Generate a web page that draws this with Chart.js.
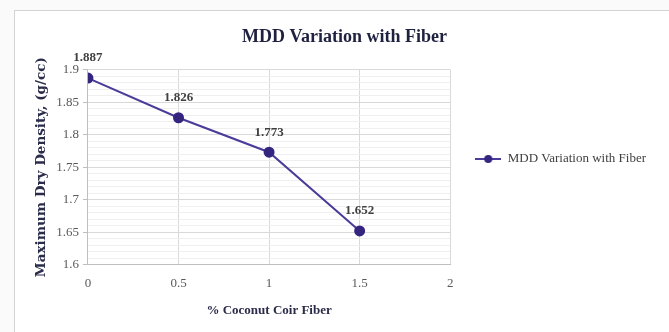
<!DOCTYPE html>
<html>
<head>
<meta charset="utf-8">
<title>MDD Variation with Fiber</title>
<script src="https://cdn.jsdelivr.net/npm/chart.js@4.4.1/dist/chart.umd.min.js"></script>
<style>
    body { margin: 0; background: #fafafa; }
    #frame {
        position: absolute; left: 14px; top: 10px; width: 700px; height: 400px;
        background: #fff; border: 1px solid #d4d4d4;
    }
    #wrap { position: absolute; left: 0; top: 0; width: 669px; height: 332px; }
</style>
</head>
<body>
<div id="frame"></div>
<div id="wrap"><canvas id="mddChart" width="669" height="332"></canvas></div>
<script>
// % coconut coir fiber vs maximum dry density (g/cc)
const fiberPct = [0, 0.5, 1, 1.5];
const mddValues = [1.887, 1.826, 1.773, 1.652];
const seriesName = "MDD Variation with Fiber";

const SERIF = '"Liberation Serif", "DejaVu Serif", serif';
const LINE_COLOR = "#4a3c98";
const POINT_COLOR = "#35257f";

// small line + dot icon for the legend entry
function legendIcon() {
    const c = document.createElement("canvas");
    c.width = 26; c.height = 10;
    const g = c.getContext("2d");
    g.strokeStyle = LINE_COLOR;
    g.lineWidth = 2;
    g.beginPath(); g.moveTo(0, 5); g.lineTo(26, 5); g.stroke();
    g.fillStyle = POINT_COLOR;
    g.beginPath(); g.arc(13, 5, 4, 0, Math.PI * 2); g.fill();
    return c;
}

// value labels above each point
const valueLabels = {
    id: "valueLabels",
    afterDatasetsDraw(chart) {
        const ctx = chart.ctx;
        const meta = chart.getDatasetMeta(0);
        ctx.save();
        ctx.font = "bold 13px " + SERIF;
        ctx.fillStyle = "#404040";
        ctx.textAlign = "center";
        ctx.textBaseline = "middle";
        meta.data.forEach((pt, i) => {
            ctx.fillText(mddValues[i].toFixed(3), pt.x, pt.y - 20);
        });
        ctx.restore();
    }
};

function isMajor(v) {
    return Math.round(v * 100) % 5 === 0;
}

const ctx = document.getElementById("mddChart").getContext("2d");
new Chart(ctx, {
    type: "line",
    data: {
        datasets: [{
            label: seriesName,
            data: fiberPct.map((x, i) => ({ x: x, y: mddValues[i] })),
            borderColor: LINE_COLOR,
            borderWidth: 2,
            pointBackgroundColor: POINT_COLOR,
            pointBorderColor: POINT_COLOR,
            pointRadius: 4.5,
            tension: 0
        }]
    },
    options: {
        responsive: false,
        animation: false,
        layout: { padding: { left: 33, right: 13, top: 0, bottom: 14 } },
        plugins: {
            title: {
                display: true,
                text: "MDD Variation with Fiber",
                color: "#1f2140",
                font: { family: SERIF, size: 18, weight: "bold" },
                padding: { top: 27, bottom: 21 }
            },
            legend: {
                position: "right",
                maxWidth: 240,
                labels: {
                    usePointStyle: true,
                    pointStyle: legendIcon(),
                    pointStyleWidth: 26,
                    padding: 25,
                    color: "#404040",
                    font: { family: SERIF, size: 13 }
                }
            },
            tooltip: { enabled: false }
        },
        scales: {
            x: {
                type: "linear",
                min: 0,
                max: 2,
                ticks: {
                    stepSize: 0.5,
                    color: "#595959",
                    font: { family: SERIF, size: 13 },
                    padding: 11,
                    callback: v => String(v)
                },
                grid: { color: "#d9d9d9", drawTicks: false },
                border: { color: "#bfbfbf" },
                title: {
                    display: true,
                    text: "% Coconut Coir Fiber",
                    color: "#2a2c4a",
                    font: { family: SERIF, size: 13, weight: "bold" },
                    padding: { top: 0, bottom: 0 }
                }
            },
            y: {
                min: 1.6,
                max: 1.9,
                ticks: {
                    stepSize: 0.01,
                    autoSkip: false,
                    color: "#595959",
                    font: { family: SERIF, size: 13 },
                    padding: 4,
                    callback: v => isMajor(v) ? String(Math.round(v * 100) / 100) : ""
                },
                grid: {
                    color: c => isMajor(c.tick.value) ? "#d9d9d9" : "#efefef",
                    tickColor: c => isMajor(c.tick.value) ? "#bfbfbf" : "rgba(0,0,0,0)",
                    tickLength: 5
                },
                border: { color: "#bfbfbf" },
                title: {
                    display: true,
                    text: "Maximum Dry Density, (g/cc)",
                    color: "#2a2c4a",
                    font: { family: '"DejaVu Serif", serif', size: 13.5, weight: "bold" },
                    padding: { top: 0, bottom: 3 }
                }
            }
        }
    },
    plugins: [valueLabels]
});
</script>
</body>
</html>
